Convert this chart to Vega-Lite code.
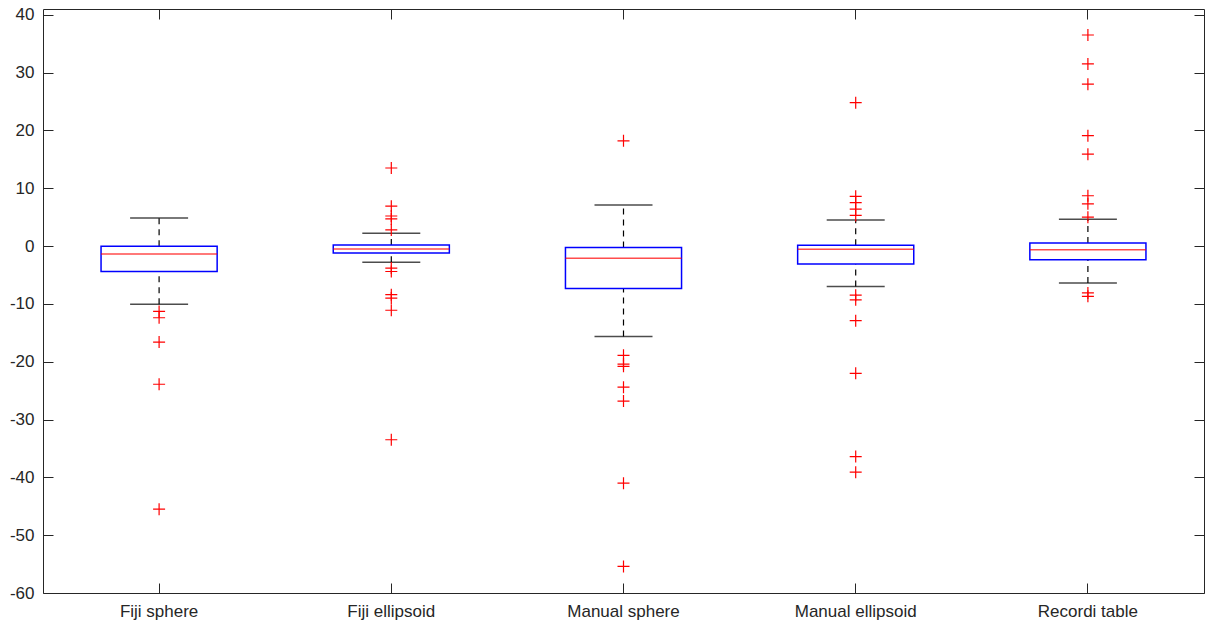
{
  "$schema": "https://vega.github.io/schema/vega-lite/v6.json",
  "width": 1161,
  "height": 584,
  "autosize": {"type": "none"},
  "padding": {"left": 43, "top": 9, "right": 10, "bottom": 35},
  "background": "white",
  "config": {
    "view": {"stroke": "#262626", "strokeWidth": 1},
    "font": "Liberation Sans",
    "axis": {
      "labelFont": "Liberation Sans",
      "labelFontSize": 17,
      "labelColor": "#262626",
      "domainColor": "#262626",
      "tickColor": "#262626",
      "grid": false,
      "title": null
    }
  },
  "datasets": {
    "stats": [
      {"cat": "Fiji sphere", "lower": -10.05, "q1": -4.4, "median": -1.35, "q3": -0.05, "upper": 4.85},
      {"cat": "Fiji ellipsoid", "lower": -2.8, "q1": -1.2, "median": -0.5, "q3": 0.2, "upper": 2.2},
      {"cat": "Manual sphere", "lower": -15.65, "q1": -7.35, "median": -2.1, "q3": -0.25, "upper": 7.1},
      {"cat": "Manual ellipsoid", "lower": -7.0, "q1": -3.1, "median": -0.55, "q3": 0.15, "upper": 4.5},
      {"cat": "Recordi table", "lower": -6.4, "q1": -2.35, "median": -0.65, "q3": 0.55, "upper": 4.65}
    ],
    "outliers": [
      {"cat": "Fiji sphere", "value": -11.3},
      {"cat": "Fiji sphere", "value": -12.4},
      {"cat": "Fiji sphere", "value": -16.6},
      {"cat": "Fiji sphere", "value": -23.9},
      {"cat": "Fiji sphere", "value": -45.5},
      {"cat": "Fiji ellipsoid", "value": 13.5},
      {"cat": "Fiji ellipsoid", "value": 6.9},
      {"cat": "Fiji ellipsoid", "value": 5.2},
      {"cat": "Fiji ellipsoid", "value": 4.7},
      {"cat": "Fiji ellipsoid", "value": 2.8},
      {"cat": "Fiji ellipsoid", "value": -3.8},
      {"cat": "Fiji ellipsoid", "value": -4.4},
      {"cat": "Fiji ellipsoid", "value": -8.4},
      {"cat": "Fiji ellipsoid", "value": -9.0},
      {"cat": "Fiji ellipsoid", "value": -11.1},
      {"cat": "Fiji ellipsoid", "value": -33.5},
      {"cat": "Manual sphere", "value": 18.2},
      {"cat": "Manual sphere", "value": -18.9},
      {"cat": "Manual sphere", "value": -20.4},
      {"cat": "Manual sphere", "value": -20.8},
      {"cat": "Manual sphere", "value": -24.4},
      {"cat": "Manual sphere", "value": -26.8},
      {"cat": "Manual sphere", "value": -41.0},
      {"cat": "Manual sphere", "value": -55.4},
      {"cat": "Manual ellipsoid", "value": 24.8},
      {"cat": "Manual ellipsoid", "value": 8.6},
      {"cat": "Manual ellipsoid", "value": 7.5},
      {"cat": "Manual ellipsoid", "value": 6.4},
      {"cat": "Manual ellipsoid", "value": 5.3},
      {"cat": "Manual ellipsoid", "value": -8.5},
      {"cat": "Manual ellipsoid", "value": -9.3},
      {"cat": "Manual ellipsoid", "value": -12.9},
      {"cat": "Manual ellipsoid", "value": -22.0},
      {"cat": "Manual ellipsoid", "value": -36.4},
      {"cat": "Manual ellipsoid", "value": -39.1},
      {"cat": "Recordi table", "value": 36.5},
      {"cat": "Recordi table", "value": 31.5},
      {"cat": "Recordi table", "value": 28.0},
      {"cat": "Recordi table", "value": 19.1},
      {"cat": "Recordi table", "value": 15.9},
      {"cat": "Recordi table", "value": 8.7},
      {"cat": "Recordi table", "value": 7.3},
      {"cat": "Recordi table", "value": 5.0},
      {"cat": "Recordi table", "value": -8.1},
      {"cat": "Recordi table", "value": -8.7}
    ]
  },
  "resolve": {"axis": {"x": "independent", "y": "independent"}},
  "layer": [
    {
      "data": {"name": "stats"},
      "mark": {"type": "rule", "color": "black", "strokeDash": [6, 5], "strokeWidth": 1.2},
      "encoding": {
        "x": {
          "field": "cat", "type": "nominal",
          "sort": ["Fiji sphere", "Fiji ellipsoid", "Manual sphere", "Manual ellipsoid", "Recordi table"],
          "scale": {"paddingInner": 0, "paddingOuter": 0},
          "axis": {"orient": "bottom", "labelAngle": 0, "domain": false, "tickSize": 10, "offset": -10, "labelPadding": 10}
        },
        "y": {
          "field": "q3", "type": "quantitative",
          "scale": {"domain": [-60, 41], "nice": false, "zero": false},
          "axis": {
            "orient": "left",
            "values": [-60, -50, -40, -30, -20, -10, 0, 10, 20, 30, 40],
            "domain": false, "ticks": false, "labelPadding": 9,
            "labelExpr": "'' + datum.value"
          }
        },
        "y2": {"field": "upper"}
      }
    },
    {
      "data": {"name": "stats"},
      "mark": {"type": "rule", "color": "black", "strokeDash": [6, 5], "strokeWidth": 1.2},
      "encoding": {
        "x": {
          "field": "cat", "type": "nominal",
          "sort": ["Fiji sphere", "Fiji ellipsoid", "Manual sphere", "Manual ellipsoid", "Recordi table"],
          "axis": {"orient": "top", "labels": false, "domain": false, "tickSize": 10, "offset": -10}
        },
        "y": {
          "field": "lower", "type": "quantitative",
          "axis": {
            "orient": "right",
            "values": [-60, -50, -40, -30, -20, -10, 0, 10, 20, 30, 40],
            "labels": false, "domain": false, "tickSize": 10, "offset": -10
          }
        },
        "y2": {"field": "q1"}
      }
    },
    {
      "data": {"name": "stats"},
      "mark": {"type": "tick", "color": "black", "size": 58, "thickness": 1.5, "orient": "horizontal"},
      "encoding": {
        "x": {"field": "cat", "type": "nominal", "sort": ["Fiji sphere", "Fiji ellipsoid", "Manual sphere", "Manual ellipsoid", "Recordi table"], "axis": null},
        "y": {
          "field": "upper", "type": "quantitative",
          "axis": {
            "orient": "right",
            "values": [-60, -50, -40, -30, -20, -10, 0, 10, 20, 30, 40],
            "labels": false, "domain": false, "tickSize": 10, "offset": -1161
          }
        }
      }
    },
    {
      "data": {"name": "stats"},
      "mark": {"type": "tick", "color": "black", "size": 58, "thickness": 1.5, "orient": "horizontal"},
      "encoding": {
        "x": {"field": "cat", "type": "nominal", "sort": ["Fiji sphere", "Fiji ellipsoid", "Manual sphere", "Manual ellipsoid", "Recordi table"], "axis": null},
        "y": {"field": "lower", "type": "quantitative", "axis": null}
      }
    },
    {
      "data": {"name": "stats"},
      "mark": {"type": "bar", "fill": "transparent", "stroke": "#0000ff", "strokeWidth": 1.5, "width": {"band": 0.5}},
      "encoding": {
        "x": {"field": "cat", "type": "nominal", "sort": ["Fiji sphere", "Fiji ellipsoid", "Manual sphere", "Manual ellipsoid", "Recordi table"], "axis": null},
        "y": {"field": "q1", "type": "quantitative", "axis": null},
        "y2": {"field": "q3"}
      }
    },
    {
      "data": {"name": "stats"},
      "mark": {"type": "tick", "color": "#ff0000", "size": 116, "thickness": 1.5, "orient": "horizontal"},
      "encoding": {
        "x": {"field": "cat", "type": "nominal", "sort": ["Fiji sphere", "Fiji ellipsoid", "Manual sphere", "Manual ellipsoid", "Recordi table"], "axis": null},
        "y": {"field": "median", "type": "quantitative", "axis": null}
      }
    },
    {
      "data": {"name": "outliers"},
      "mark": {"type": "point", "shape": "M-1,0H1M0,-1V1", "filled": false, "stroke": "#ff0000", "strokeWidth": 1.2, "size": 144, "opacity": 1},
      "encoding": {
        "x": {"field": "cat", "type": "nominal", "sort": ["Fiji sphere", "Fiji ellipsoid", "Manual sphere", "Manual ellipsoid", "Recordi table"], "axis": null},
        "y": {"field": "value", "type": "quantitative", "axis": null}
      }
    }
  ]
}
